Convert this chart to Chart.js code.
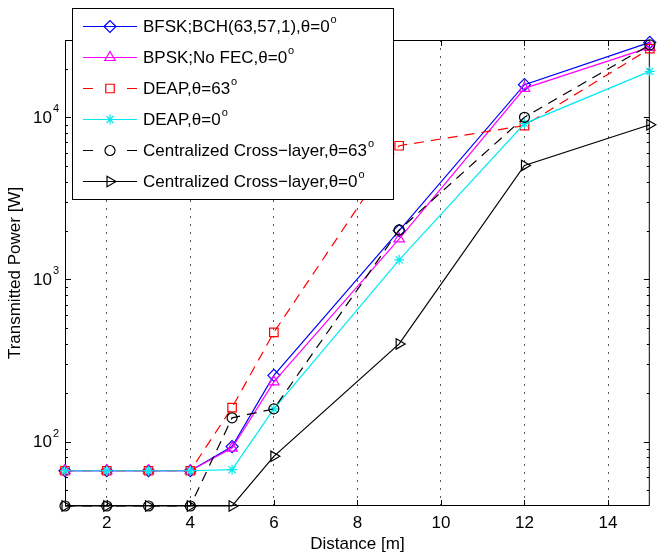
<!DOCTYPE html>
<html>
<head>
<meta charset="utf-8">
<script src="https://cdn.jsdelivr.net/npm/chart.js@4.4.0/dist/chart.umd.min.js"></script>
<style>
  html, body { margin: 0; padding: 0; background: #fff; }
  #wrap { width: 657px; height: 555px; }
</style>
</head>
<body>
<div id="wrap"><canvas id="PWR" width="657" height="555"></canvas></div>
<script>
// distance [m] and transmitted power [W]
var distances = [1, 2, 3, 4, 5, 6, 9, 12, 15];
var bfskBch   = [66, 66, 66, 66, 93, 256, 2000, 15900, 29000];
var bpskNoFec = [66, 66, 66, 66, 91, 233, 1780, 15100, 27000];
var deap63    = [66, 66, 66, 66, 162, 471, 6680, 8900, 26500];
var deap0     = [66, 66, 66, 66, 67, 159, 1320, 9150, 19200];
var cross63   = [40, 40, 40, 40, 140, 159, 2020, 10000, 28000];
var cross0    = [40, 40, 40, 40, 40, 81, 400, 5050, 9000];

var names = ["BFSK;BCH(63,57,1),\u03b8=0", "BPSK;No FEC,\u03b8=0", "DEAP,\u03b8=63", "DEAP,\u03b8=0",
             "Centralized Cross\u2212layer,\u03b8=63", "Centralized Cross\u2212layer,\u03b8=0"];

var xTicks = [2, 4, 6, 8, 10, 12, 14];
var yDecades = [100, 1000, 10000];
var yExps = ["2", "3", "4"];
var yMinors = [50, 60, 70, 80, 90, 200, 300, 400, 500, 600, 700, 800, 900,
               2000, 3000, 4000, 5000, 6000, 7000, 8000, 9000, 20000];

var FONT = "'Liberation Sans', Arial, Helvetica, sans-serif";

var styles = [
    { col: "#0000ff", dash: [], pt: "rectRot", r: 6, rot: 0 },
    { col: "#ff00ff", dash: [], pt: "triangle", r: 6, rot: 0 },
    { col: "#ff0000", dash: [10, 7], pt: "rect", r: 6, rot: 0 },
    { col: "#00eaf2", dash: [], pt: "star", r: 5, rot: 0 },
    { col: "#000000", dash: [10, 7], pt: "circle", r: 5, rot: 0 },
    { col: "#000000", dash: [], pt: "triangle", r: 6, rot: 90 }
];
var series = [bfskBch, bpskNoFec, deap63, deap0, cross63, cross0];

function pts(vals) {
    var out = [];
    for (var i = 0; i < distances.length; i++) out.push({ x: distances[i], y: vals[i] });
    return out;
}

var datasets = [];
for (var i = 0; i < series.length; i++) {
    var s = styles[i];
    datasets.push({
        label: names[i],
        data: pts(series[i]),
        borderColor: s.col,
        borderWidth: 1.2,
        borderDash: s.dash,
        pointStyle: s.pt,
        pointRadius: s.r,
        pointRotation: s.rot,
        pointBorderColor: s.col,
        pointBackgroundColor: "rgba(0,0,0,0)",
        pointBorderWidth: 1.2,
        tension: 0,
        fill: false,
        clip: false,
        order: series.length - i
    });
}

function drawMarker(ctx, s, x, y) {
    ctx.save();
    ctx.setLineDash([]);
    ctx.strokeStyle = s.col;
    ctx.fillStyle = "rgba(0,0,0,0)";
    ctx.lineWidth = 1.2;
    Chart.helpers.drawPoint(ctx, { pointStyle: s.pt, rotation: s.rot, radius: s.r, borderWidth: 1.2 }, x, y);
    ctx.restore();
}

// axes box, inward ticks, 10^n labels, legend
var framePlugin = {
    id: "frame",
    beforeDatasetsDraw: function (chart) {
        var ctx = chart.ctx, a = chart.chartArea, xs = chart.scales.x, ys = chart.scales.y;
        ctx.save();
        ctx.strokeStyle = "#000";
        ctx.lineWidth = 1;
        ctx.setLineDash([]);
        ctx.beginPath();
        xTicks.forEach(function (v) {
            var px = Math.round(xs.getPixelForValue(v)) + 0.5;
            ctx.moveTo(px, a.bottom); ctx.lineTo(px, a.bottom - 6);
            ctx.moveTo(px, a.top); ctx.lineTo(px, a.top + 6);
        });
        yDecades.forEach(function (v) {
            var py = Math.round(ys.getPixelForValue(v)) + 0.5;
            ctx.moveTo(a.left, py); ctx.lineTo(a.left + 6, py);
            ctx.moveTo(a.right, py); ctx.lineTo(a.right - 6, py);
        });
        yMinors.forEach(function (v) {
            var py = Math.round(ys.getPixelForValue(v)) + 0.5;
            ctx.moveTo(a.left, py); ctx.lineTo(a.left + 3, py);
            ctx.moveTo(a.right, py); ctx.lineTo(a.right - 3, py);
        });
        ctx.stroke();
        ctx.strokeRect(a.left + 0.5, a.top + 0.5, a.right - a.left - 1, a.bottom - a.top - 1);
        ctx.restore();
    },
    afterDraw: function (chart) {
        var ctx = chart.ctx, ys = chart.scales.y;
        ctx.save();
        ctx.fillStyle = "#000";
        for (var k = 0; k < yDecades.length; k++) {
            var py = ys.getPixelForValue(yDecades[k]);
            ctx.font = "17px " + FONT;
            ctx.textAlign = "right";
            ctx.textBaseline = "middle";
            ctx.fillText("10", 52, py + 1);
            ctx.font = "11px " + FONT;
            ctx.textAlign = "left";
            ctx.fillText(yExps[k], 53, py - 8);
        }
        var bx = 72, by = 8, bw = 321, bh = 191;
        ctx.fillStyle = "#fff";
        ctx.fillRect(bx, by, bw, bh);
        ctx.strokeStyle = "#000";
        ctx.lineWidth = 1;
        ctx.strokeRect(bx + 0.5, by + 0.5, bw, bh);
        for (var j = 0; j < names.length; j++) {
            var s = styles[j];
            var ry = 26.5 + 31 * j;
            ctx.strokeStyle = s.col;
            ctx.lineWidth = 1.2;
            ctx.setLineDash([]);
            ctx.beginPath();
            if (s.dash.length) {
                ctx.moveTo(83, ry); ctx.lineTo(93, ry);
                ctx.moveTo(127, ry); ctx.lineTo(137, ry);
            } else {
                ctx.moveTo(83, ry); ctx.lineTo(137, ry);
            }
            ctx.stroke();
            drawMarker(ctx, s, 110, ry);
            ctx.fillStyle = "#000";
            ctx.font = "17px " + FONT;
            ctx.textAlign = "left";
            ctx.textBaseline = "middle";
            ctx.fillText(names[j], 143, ry + 1);
            var w = ctx.measureText(names[j]).width;
            ctx.font = "11px " + FONT;
            ctx.fillText("o", 143 + w + 1, ry - 7);
        }
        ctx.restore();
    }
};

var ctx = document.getElementById("PWR").getContext("2d");
var myChart = new Chart(ctx, {
    type: "line",
    data: { datasets: datasets },
    options: {
        responsive: false,
        animation: false,
        devicePixelRatio: 1,
        layout: { padding: { top: 40, right: 1, bottom: 0, left: 0 } },
        plugins: {
            legend: { display: false },
            tooltip: { enabled: false }
        },
        scales: {
            x: {
                type: "linear",
                min: 1,
                max: 15,
                afterBuildTicks: function (scale) {
                    scale.ticks = xTicks.map(function (v) { return { value: v }; });
                },
                afterFit: function (scale) { scale.height = 49; },
                ticks: { color: "#000", font: { family: FONT, size: 17 }, padding: 7, maxRotation: 0 },
                grid: { display: true, color: "#555", lineWidth: 1, drawTicks: false },
                border: { display: false, dash: [2, 6] },
                title: { display: true, text: "Distance [m]", color: "#000", font: { family: FONT, size: 17 }, padding: { top: 0, bottom: 0 } }
            },
            y: {
                type: "logarithmic",
                min: 40,
                max: 30000,
                afterFit: function (scale) { scale.width = 65; },
                ticks: { display: false },
                grid: { display: false },
                border: { display: false },
                title: { display: true, text: "Transmitted Power [W]", color: "#000", font: { family: FONT, size: 17 }, padding: { top: 5, bottom: 0 } }
            }
        }
    },
    plugins: [framePlugin]
});
</script>
</body>
</html>
